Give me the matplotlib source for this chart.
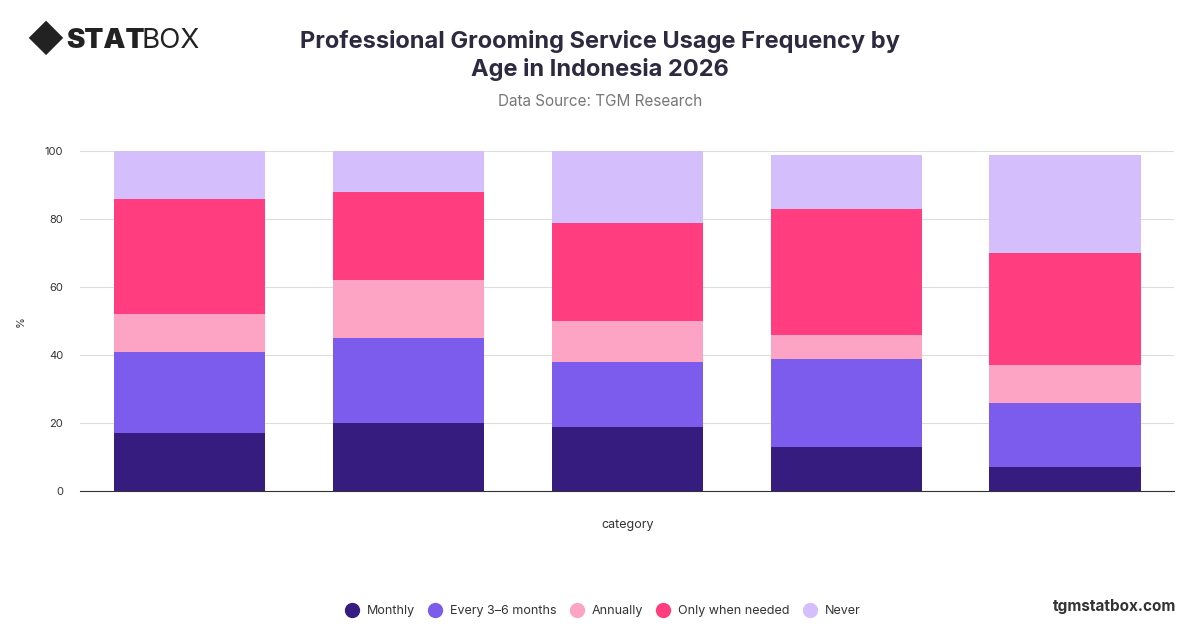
import matplotlib
matplotlib.use('Agg')
import matplotlib.pyplot as plt
import numpy as np

categories = ['18-24', '25-34', '35-44', '45-54', '55+']
series_names = ['Monthly', 'Every 3–6 months', 'Annually', 'Only when needed', 'Never']
monthly = [17, 20, 19, 13, 7]
every_3_6 = [24, 25, 19, 26, 19]
annually = [11, 17, 12, 7, 11]
when_needed = [34, 26, 29, 37, 33]
never = [14, 12, 21, 16, 29]
colors = ['#371c80', '#7c5cec', '#fda4c4', '#ff3d7f', '#d4bffc']

plt.rcParams['font.family'] = ['Inter', 'DejaVu Sans']

fig = plt.figure(figsize=(12, 6.28), dpi=100)
ax = fig.add_axes([0.0667, 0.218, 0.912, 0.541])

x = np.arange(len(categories))
bottom = np.zeros(len(categories))
for name, vals, c in zip(series_names, [monthly, every_3_6, annually, when_needed, never], colors):
    ax.bar(x, vals, bottom=bottom, width=0.69, color=c, label=name, zorder=3)
    bottom += np.array(vals)

ax.set_xlim(-0.5, len(categories) - 0.5)
ax.set_ylim(0, 100)
ax.set_yticks([0, 20, 40, 60, 80, 100])
ax.tick_params(axis='y', labelsize=8, colors='#333333', length=0, pad=12)
ax.set_xticks([])
ax.grid(axis='y', color='#dddddd', linewidth=0.8, zorder=0)
for s in ['top', 'right', 'left']:
    ax.spines[s].set_visible(False)
ax.spines['bottom'].set_color('#333333')
ax.set_ylabel('%', fontsize=8, color='#333333', labelpad=14)
ax.set_xlabel('category', fontsize=9, color='#333333', labelpad=20)

fig.text(0.5, 0.912, 'Professional Grooming Service Usage Frequency by\nAge in Indonesia 2026',
         ha='center', va='center', fontsize=17, fontweight='bold', color='#2d2a40', linespacing=1.3)
fig.text(0.5, 0.838, 'Data Source: TGM Research', ha='center', va='center', fontsize=11, color='#777777')
fig.text(0.022, 0.935, '◆', fontsize=26, color='#222222', va='center', ha='left')
fig.text(0.055, 0.935, 'STAT', fontsize=20, fontweight='black', color='#222222', va='center', ha='left')
fig.text(0.118, 0.935, 'BOX', fontsize=20, color='#222222', va='center', ha='left')
fig.text(0.98, 0.035, 'tgmstatbox.com', fontsize=11, fontweight='bold', color='#333333', ha='right', va='center')

handles = [plt.Line2D([], [], marker='o', linestyle='', color=c, markersize=10) for c in colors]
fig.legend(handles, series_names, loc='center', bbox_to_anchor=(0.5, 0.027), ncol=5, frameon=False,
           fontsize=9, handletextpad=0.2, columnspacing=0.6, labelcolor='#333333')

fig.savefig('out.png', dpi=100)
